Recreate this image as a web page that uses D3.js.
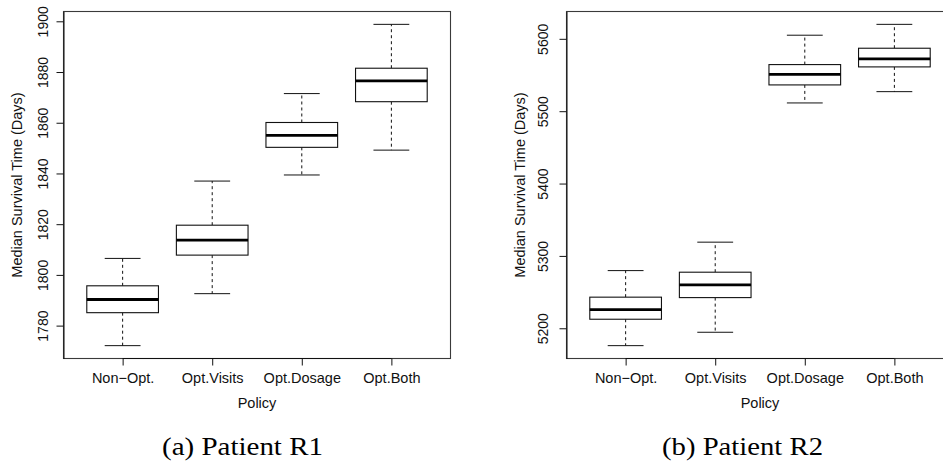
<!DOCTYPE html>
<html>
<head>
<meta charset="utf-8">
<script src="https://cdn.jsdelivr.net/npm/d3@7/dist/d3.min.js"></script>
<style>
  html, body { margin: 0; padding: 0; background: #fff; }
  svg { display: block; }
</style>
</head>
<body>
<svg id="chart" width="943" height="468"></svg>
<script>
// ---- Data ----
const policies = ["Non\u2212Opt.", "Opt.Visits", "Opt.Dosage", "Opt.Both"];

// Patient R1
const r1Min    = [1772.1, 1792.6, 1839.4, 1849.2];
const r1Q1     = [1785.1, 1807.8, 1850.3, 1868.3];
const r1Median = [1790.3, 1813.7, 1855.0, 1876.5];
const r1Q3     = [1795.7, 1819.6, 1860.1, 1881.5];
const r1Max    = [1806.5, 1837.0, 1871.5, 1898.8];
const r1Ticks  = [1780, 1800, 1820, 1840, 1860, 1880, 1900];

// Patient R2
const r2Min    = [5176.0, 5194.5, 5511.4, 5527.0];
const r2Q1     = [5212.5, 5242.4, 5536.3, 5561.2];
const r2Median = [5225.8, 5260.0, 5551.0, 5572.3];
const r2Q3     = [5243.0, 5277.5, 5564.4, 5587.0];
const r2Max    = [5279.7, 5319.0, 5605.0, 5620.0];
const r2Ticks  = [5200, 5300, 5400, 5500, 5600];

const yTitle = "Median Survival Time (Days)";
const xTitle = "Policy";
const captions = ["(a) Patient R1", "(b) Patient R2"];

// ---- Layout ----
const svg = d3.select("#chart");
svg.append("rect").attr("width", 943).attr("height", 468).attr("fill", "#fff");

const panels = [
  { left: 63.5, mins: r1Min, q1: r1Q1, med: r1Median, q3: r1Q3, maxs: r1Max, ticks: r1Ticks, tickOff: 20, capX: 162, caption: captions[0] },
  { left: 566.5, mins: r2Min, q1: r2Q1, med: r2Median, q3: r2Q3, maxs: r2Max, ticks: r2Ticks, tickOff: 23, capX: 662, caption: captions[1] }
];

const plotTop = 11.5, plotBottom = 358.5, plotWidth = 387;
const font = "'Liberation Sans', Arial, Helvetica, sans-serif";

panels.forEach(p => {
  const g = svg.append("g");
  const lo = d3.min(p.mins), hi = d3.max(p.maxs);
  const pad = (hi - lo) * 0.04;
  const y = d3.scaleLinear().domain([lo - pad, hi + pad]).range([plotBottom, plotTop]);
  const x = d3.scaleLinear().domain([0.34, 4.66]).range([p.left, p.left + plotWidth]);
  const unit = x(2) - x(1);
  const boxW = unit * 0.8;
  const capW = boxW * 0.5;

  // frame
  g.append("rect")
    .attr("x", p.left).attr("y", plotTop)
    .attr("width", plotWidth).attr("height", plotBottom - plotTop)
    .attr("fill", "none").attr("stroke", "#3a3a3a").attr("stroke-width", 1.1);

  // y axis
  const yAxis = d3.axisLeft(y).tickValues(p.ticks).tickSize(7).tickSizeOuter(0).tickFormat(d3.format("d"));
  const ya = g.append("g").attr("transform", `translate(${p.left},0)`).call(yAxis);
  ya.select(".domain").attr("stroke", "#111");
  ya.selectAll(".tick line").attr("stroke", "#111");
  ya.selectAll(".tick text").remove();
  ya.selectAll(".tick").append("text")
    .attr("transform", `translate(${-p.tickOff},0) rotate(-90)`)
    .attr("text-anchor", "middle")
    .attr("dy", "0.35em")
    .attr("fill", "#111")
    .style("font-family", font).style("font-size", "14px")
    .text(d => d);

  // x axis
  const xAxis = d3.axisBottom(x).tickValues([1, 2, 3, 4]).tickSize(7).tickSizeOuter(0)
    .tickFormat(d => policies[d - 1]);
  const xa = g.append("g").attr("transform", `translate(0,${plotBottom})`).call(xAxis);
  xa.select(".domain").attr("d", `M${x(1)},0H${x(4)}`).attr("stroke", "#111");
  xa.selectAll(".tick line").attr("stroke", "#111");
  xa.selectAll(".tick text")
    .attr("y", 24).attr("dy", 0)
    .attr("fill", "#111")
    .style("font-family", font).style("font-size", "14.5px");

  // titles
  g.append("text")
    .attr("transform", `translate(${p.left - 47},${(plotTop + plotBottom) / 2}) rotate(-90)`)
    .attr("text-anchor", "middle").attr("dy", "0.35em")
    .attr("fill", "#111")
    .style("font-family", font).style("font-size", "14.5px")
    .text(yTitle);
  g.append("text")
    .attr("x", p.left + plotWidth / 2).attr("y", 407.5)
    .attr("text-anchor", "middle")
    .attr("fill", "#111")
    .style("font-family", font).style("font-size", "14.5px")
    .text(xTitle);

  // boxes
  const idx = d3.range(policies.length);
  const bx = g.append("g").selectAll("g").data(idx).join("g");
  // whiskers (dashed)
  bx.append("line")
    .attr("x1", i => x(i + 1)).attr("x2", i => x(i + 1))
    .attr("y1", i => y(p.q3[i])).attr("y2", i => y(p.maxs[i]))
    .attr("stroke", "#111").attr("stroke-dasharray", "3,3");
  bx.append("line")
    .attr("x1", i => x(i + 1)).attr("x2", i => x(i + 1))
    .attr("y1", i => y(p.q1[i])).attr("y2", i => y(p.mins[i]))
    .attr("stroke", "#111").attr("stroke-dasharray", "3,3");
  // staples
  bx.append("line")
    .attr("x1", i => x(i + 1) - capW / 2).attr("x2", i => x(i + 1) + capW / 2)
    .attr("y1", i => y(p.maxs[i])).attr("y2", i => y(p.maxs[i]))
    .attr("stroke", "#111");
  bx.append("line")
    .attr("x1", i => x(i + 1) - capW / 2).attr("x2", i => x(i + 1) + capW / 2)
    .attr("y1", i => y(p.mins[i])).attr("y2", i => y(p.mins[i]))
    .attr("stroke", "#111");
  // box
  bx.append("rect")
    .attr("x", i => x(i + 1) - boxW / 2).attr("width", boxW)
    .attr("y", i => y(p.q3[i])).attr("height", i => y(p.q1[i]) - y(p.q3[i]))
    .attr("fill", "#fff").attr("stroke", "#111").attr("stroke-width", 1.1);
  // median
  bx.append("line")
    .attr("x1", i => x(i + 1) - boxW / 2).attr("x2", i => x(i + 1) + boxW / 2)
    .attr("y1", i => y(p.med[i])).attr("y2", i => y(p.med[i]))
    .attr("stroke", "#000").attr("stroke-width", 2.8);

  // caption
  svg.append("text")
    .attr("x", p.capX).attr("y", 455)
    .attr("textLength", 161).attr("lengthAdjust", "spacingAndGlyphs")
    .attr("fill", "#000")
    .style("font-family", "'Liberation Serif', 'Times New Roman', serif").style("font-size", "25px")
    .text(p.caption);
});
</script>
</body>
</html>
